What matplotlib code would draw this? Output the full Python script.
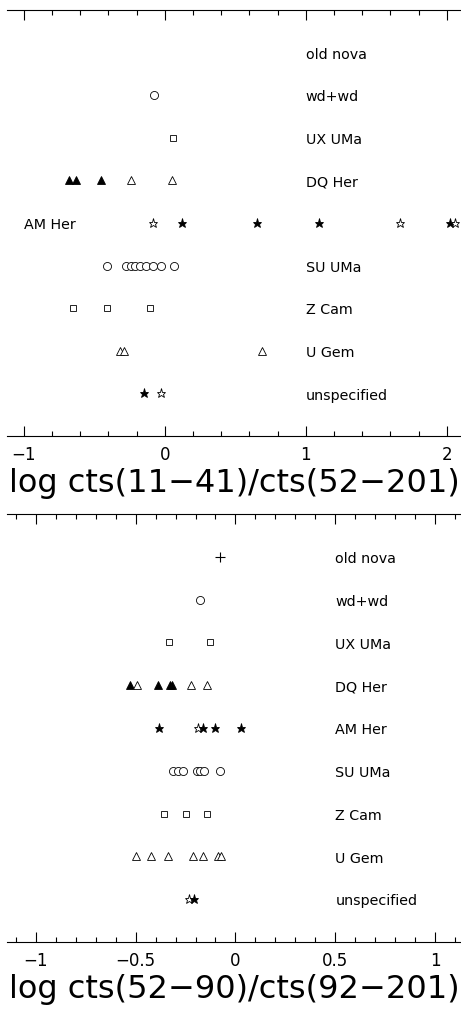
import matplotlib.pyplot as plt

classes = ['unspecified', 'U Gem', 'Z Cam', 'SU UMa', 'AM Her',
           'DQ Her', 'UX UMa', 'wd+wd', 'old nova']

# top panel: log cts(11-41)/cts(52-201)
top_x = [-0.08,
         0.055,
         -0.68, -0.63, -0.45, -0.24, 0.05,
         -0.087, 0.125, 0.65, 1.09, 1.67, 2.02, 2.06,
         -0.41, -0.277, -0.243, -0.213, -0.177, -0.137, -0.083, -0.03, 0.064,
         -0.65, -0.41, -0.106,
         -0.32, -0.29, 0.686,
         -0.15, -0.03]
top_cls = ['wd+wd',
           'UX UMa',
           'DQ Her', 'DQ Her', 'DQ Her', 'DQ Her', 'DQ Her',
           'AM Her', 'AM Her', 'AM Her', 'AM Her', 'AM Her', 'AM Her', 'AM Her',
           'SU UMa', 'SU UMa', 'SU UMa', 'SU UMa', 'SU UMa', 'SU UMa', 'SU UMa', 'SU UMa', 'SU UMa',
           'Z Cam', 'Z Cam', 'Z Cam',
           'U Gem', 'U Gem', 'U Gem',
           'unspecified', 'unspecified']
top_sym = ['o',
           's',
           '^f', '^f', '^f', '^', '^',
           '*', '*f', '*f', '*f', '*', '*f', '*',
           'o', 'o', 'o', 'o', 'o', 'o', 'o', 'o', 'o',
           's', 's', 's',
           '^', '^', '^',
           '*f', '*']

# bottom panel: log cts(52-90)/cts(92-201)
bot_x = [-0.078,
         -0.178,
         -0.333, -0.128,
         -0.529, -0.495, -0.387, -0.33, -0.318, -0.225, -0.144,
         -0.385, -0.186, -0.161, -0.103, 0.028,
         -0.312, -0.287, -0.265, -0.195, -0.178, -0.158, -0.078,
         -0.357, -0.25, -0.141,
         -0.499, -0.425, -0.34, -0.215, -0.161, -0.086, -0.074,
         -0.233, -0.208]
bot_cls = ['old nova',
           'wd+wd',
           'UX UMa', 'UX UMa',
           'DQ Her', 'DQ Her', 'DQ Her', 'DQ Her', 'DQ Her', 'DQ Her', 'DQ Her',
           'AM Her', 'AM Her', 'AM Her', 'AM Her', 'AM Her',
           'SU UMa', 'SU UMa', 'SU UMa', 'SU UMa', 'SU UMa', 'SU UMa', 'SU UMa',
           'Z Cam', 'Z Cam', 'Z Cam',
           'U Gem', 'U Gem', 'U Gem', 'U Gem', 'U Gem', 'U Gem', 'U Gem',
           'unspecified', 'unspecified']
bot_sym = ['+',
           'o',
           's', 's',
           '^f', '^', '^f', '^f', '^f', '^', '^',
           '*f', '*', '*f', '*f', '*f',
           'o', 'o', 'o', 'o', 'o', 'o', 'o',
           's', 's', 's',
           '^', '^', '^', '^', '^', '^', '^',
           '*', '*f']

top_label_x = [1.0] * 9
top_label_x[classes.index('AM Her')] = -1.0
bot_label_x = [0.5] * 9

sizes = {'o': 5.8, 's': 4.8, '^': 6.0, '*': 6.8, '+': 7}


def panel(ax, xs, cls, syms, label_x, xlim, major, minor, xlabel, ticklabels):
    for x, c, s in zip(xs, cls, syms):
        m = s[0]
        y = classes.index(c) + 1
        face = 'black' if s.endswith('f') else 'white'
        if m == '+':
            ax.plot(x, y, marker='+', color='black', ms=sizes[m], mew=0.8)
        else:
            ax.plot(x, y, marker=m, ms=sizes[m], mfc=face, mec='black', mew=0.6)
    for i, name in enumerate(classes):
        ax.text(label_x[i], i + 0.95, name, fontsize=10.3, va='center', ha='left')
    ax.set_yticks([])
    ax.set_xticks(major)
    ax.set_xticklabels(ticklabels, fontsize=12)
    ax.set_xticks(minor, minor=True)
    ax.set_xlim(*xlim)
    ax.set_ylim(0, 10)
    for side in ['left', 'right']:
        ax.spines[side].set_visible(False)
    ax.tick_params(axis='x', which='both', direction='in', top=True, bottom=True,
                   width=0.8, pad=7)
    ax.tick_params(axis='x', which='major', length=7)
    ax.tick_params(axis='x', which='minor', length=3.5)
    ax.set_xlabel(xlabel, fontsize=23, labelpad=3)


fig = plt.figure(figsize=(4.61, 10.13), dpi=100)
ax1 = fig.add_axes([0.015, 0.5696, 0.985, 0.4205])
ax2 = fig.add_axes([0.015, 0.0701, 0.985, 0.4225])

panel(ax1, top_x, top_cls, top_sym, top_label_x, (-1.12, 2.1),
      [-1, 0, 1, 2], [i * 0.2 - 1 for i in range(16)],
      'log cts(11\u221241)/cts(52\u2212201)', ['\u22121', '0', '1', '2'])
panel(ax2, bot_x, bot_cls, bot_sym, bot_label_x, (-1.145, 1.13),
      [-1, -0.5, 0, 0.5, 1], [i * 0.1 - 1.1 for i in range(23)],
      'log cts(52\u221290)/cts(92\u2212201)', ['\u22121', '\u22120.5', '0', '0.5', '1'])

fig.savefig('out.png', dpi=100)
